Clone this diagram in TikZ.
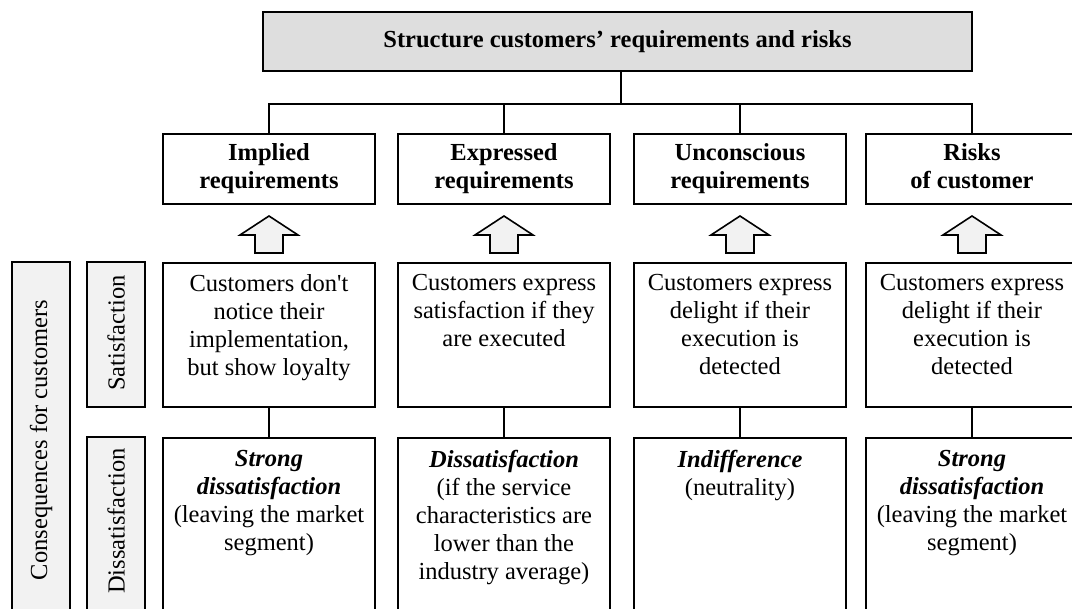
\documentclass[tikz,border=0pt]{standalone}
\usepackage{fontspec}
\setmainfont{Liberation Serif}[Ligatures=TeXOff]
\usepackage{tikz}
\usetikzlibrary{positioning}
\newcommand{\diagfont}{\fontsize{24.5}{28}\selectfont}
\definecolor{headgray}{HTML}{DEDEDE}
\definecolor{sidegray}{HTML}{F2F2F2}
\tikzstyle{box}=[draw, line width=1.6pt, inner sep=0pt, minimum width=212pt]
\tikzstyle{reqbox}=[box, minimum height=70pt, font=\diagfont\bfseries, align=center]
\tikzstyle{satbox}=[box, minimum height=144pt]
\tikzstyle{disbox}=[box, minimum height=212pt]
\tikzstyle{cell}=[inner sep=0pt, align=center, anchor=north]
\tikzstyle{sidebox}=[draw, line width=1.6pt, fill=sidegray, inner sep=0pt, minimum width=58pt]
\tikzstyle{upblock}=[draw, line width=1.6pt, fill=sidegray, line join=miter]
\tikzstyle{conn}=[line width=1.6pt]

\begin{document}
\begin{tikzpicture}[x=1pt, y=-1pt, font=\diagfont]
\useasboundingbox (0,0) rectangle (1072,609);
\clip (0,0) rectangle (1072,609);

\node[box, fill=headgray, minimum width=709pt, minimum height=59pt, font=\diagfont\bfseries] (top) at (617.5,41.5) {Structure customers’ requirements and risks};
\coordinate (bus) at (621,104);

\node[reqbox] (req1) at (269,169) {Implied\\requirements};
\node[reqbox] (req2) at (504,169) {Expressed\\requirements};
\node[reqbox] (req3) at (740,169) {Unconscious\\requirements};
\node[reqbox] (req4) at (972,169) {Risks\\of customer\vphantom{q}};

\draw[conn] (bus |- top.south) -- (bus);
\draw[conn] (req1.north) |- (bus) -| (req4.north);
\draw[conn] (req2.north) -- (req2.north |- bus);
\draw[conn] (req3.north) -- (req3.north |- bus);

% block arrows
\foreach \x in {269,504,740,972}
  \draw[upblock] ({\x-14},253) -- ({\x-14},235) -- ({\x-29},235) -- (\x,216) -- ({\x+29},235) -- ({\x+14},235) -- ({\x+14},253) -- cycle;

% satisfaction row
\node[satbox] (sat1) at (269,335) {};
\node[satbox] (sat2) at (504,335) {};
\node[satbox] (sat3) at (740,335) {};
\node[satbox] (sat4) at (972,335) {};
\node[cell] (sat1t) at (269,274) {Customers don't\\notice their\\implementation,\\but show loyalty};
\node[cell] (sat2t) at (504,274) {Customers express\\satisfaction if they\\are executed};
\node[cell] (sat3t) at (740,274) {Customers express\\delight if their\\execution is\\detected};
\node[cell] (sat4t) at (972,274) {Customers express\\delight if their\\execution is\\detected};

% dissatisfaction row
\node[disbox] (dis1) at (269,544) {};
\node[disbox] (dis2) at (504,544) {};
\node[disbox] (dis3) at (740,544) {};
\node[disbox] (dis4) at (972,544) {};
\node[cell] (dis1t) at (269,450) {\textbf{\textit{Strong}}\\\textbf{\textit{dissatisfaction}}\\(leaving the market\\segment)};
\node[cell] (dis2t) at (504,450) {\textbf{\textit{Dissatisfaction}}\\(if the service\\characteristics are\\lower than the\\industry average)};
\node[cell] (dis3t) at (740,450) {\textbf{\textit{Indifference}}\\(neutrality)};
\node[cell] (dis4t) at (972,450) {\textbf{\textit{Strong}}\\\textbf{\textit{dissatisfaction}}\\(leaving the market\\segment)};

\foreach \i in {1,...,4}
  \draw[conn] (sat\i) -- (dis\i);

% side labels
\node[sidebox, minimum height=388pt] (cons) at (41,456) {};
\node[sidebox, minimum height=145pt] (satside) at (116,334.5) {};
\node[sidebox, minimum height=213pt] (disside) at (116,543.5) {};
\node[rotate=90, inner sep=0pt] (consl) at (41,440) {Consequences for customers};
\node[rotate=90, inner sep=0pt] (satl) at (116,333) {Satisfaction};
\node[rotate=90, inner sep=0pt] (disl) at (116,521) {Dissatisfaction};
\end{tikzpicture}
\end{document}
